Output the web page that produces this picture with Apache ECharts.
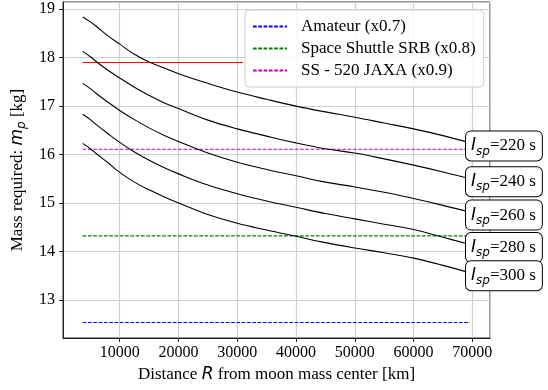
<!DOCTYPE html>
<html>
<head>
<meta charset="utf-8">
<script src="https://cdn.jsdelivr.net/npm/echarts@6/dist/echarts.min.js"></script>
<style>
html,body{margin:0;padding:0;background:#fff;}
#c{width:548px;height:390px;}
</style>
</head>
<body>
<div id="c"></div>
<script>
// Distance R from moon mass center [km]
const distanceKm = [3700, 5000, 6000, 8000, 10000, 12500, 15000, 17500, 20000, 25000, 30000, 35000, 40000, 45000, 50000, 55000, 60000, 65000, 69600];
// Mass required [kg] for each specific impulse
const isp220 = [18.84, 18.74, 18.65, 18.45, 18.28, 18.07, 17.91, 17.79, 17.67, 17.47, 17.29, 17.14, 17.00, 16.88, 16.77, 16.65, 16.53, 16.39, 16.24];
const isp240 = [18.13, 18.02, 17.92, 17.74, 17.58, 17.39, 17.22, 17.07, 16.95, 16.71, 16.53, 16.38, 16.24, 16.12, 16.03, 15.91, 15.78, 15.64, 15.50];
const isp260 = [17.47, 17.36, 17.26, 17.08, 16.91, 16.72, 16.55, 16.40, 16.27, 16.03, 15.84, 15.69, 15.56, 15.43, 15.33, 15.22, 15.09, 14.95, 14.81];
const isp280 = [16.83, 16.72, 16.62, 16.43, 16.25, 16.05, 15.88, 15.73, 15.60, 15.37, 15.19, 15.04, 14.91, 14.78, 14.67, 14.56, 14.45, 14.29, 14.14];
const isp300 = [16.23, 16.12, 16.02, 15.83, 15.63, 15.43, 15.27, 15.13, 15.00, 14.76, 14.58, 14.44, 14.31, 14.18, 14.07, 13.97, 13.86, 13.71, 13.56];
const ispLabels = ['220', '240', '260', '280', '300'];
// Reference mass levels
const maxMass = 17.9;
const maxMassRange = [3700, 31000];
const refRange = [3700, 69600];
const refNames = ['Amateur (x0.7)', 'Space Shuttle SRB (x0.8)', 'SS - 520 JAXA (x0.9)'];
const refValues = [12.53, 14.32, 16.11];
const refColors = ['#0000ff', '#008000', '#bf00bf'];

const serif = 'Liberation Serif';
const mathFont = 'DejaVu Sans';

const curves = [isp220, isp240, isp260, isp280, isp300];
const series = [];
curves.forEach((ys, k) => {
  series.push({
    name: 'Isp' + ispLabels[k],
    type: 'line',
    data: distanceKm.map((x, i) => [x, ys[i]]),
    smooth: 0.4,
    symbol: 'none',
    z: 3,
    lineStyle: {color: '#000', width: 1.1},
    endLabel: {
      show: true,
      distance: 0,
      offset: [-4, 3],
      formatter: '{i|I}{s|sp}{t|=' + ispLabels[k] + ' s}',
      backgroundColor: '#fff',
      borderColor: '#000',
      borderWidth: 1,
      borderRadius: 5,
      padding: [3, 6, 3, 5],
      rich: {
        i: {fontFamily: mathFont, fontStyle: 'italic', fontSize: 17, lineHeight: 23, color: '#000', verticalAlign: 'middle'},
        s: {fontFamily: mathFont, fontStyle: 'italic', fontSize: 12, color: '#000', verticalAlign: 'bottom'},
        t: {fontFamily: serif, fontSize: 17, lineHeight: 23, color: '#000', verticalAlign: 'middle'}
      }
    }
  });
});
series.push({
  name: 'max',
  type: 'line',
  data: maxMassRange.map(x => [x, maxMass]),
  symbol: 'none',
  z: 2,
  lineStyle: {color: '#ff0000', width: 1.2}
});
refNames.forEach((n, k) => {
  series.push({
    name: n,
    type: 'line',
    data: refRange.map(x => [x, refValues[k]]),
    symbol: 'none',
    z: 2,
    lineStyle: {color: refColors[k], width: 1.1, type: [3.7, 1.6]},
    itemStyle: {color: refColors[k]}
  });
});

const chart = echarts.init(document.getElementById('c'), null, {renderer: 'canvas'});
chart.setOption({
  animation: false,
  backgroundColor: '#fff',
  textStyle: {fontFamily: serif},
  grid: {left: 63, right: 58, top: 2, bottom: 52, show: true, borderColor: '#222', borderWidth: 1, backgroundColor: 'transparent'},
  legend: {
    data: refNames,
    orient: 'vertical',
    left: 245,
    top: 10,
    padding: [8, 8, 8, 7],
    itemWidth: 34,
    itemHeight: 14,
    itemGap: 5,
    itemStyle: {opacity: 0},
    backgroundColor: 'rgba(255,255,255,0.85)',
    borderColor: '#cccccc',
    borderWidth: 1,
    borderRadius: 4,
    formatter: name => '{a|' + name + '}',
    textStyle: {
      fontFamily: serif, fontSize: 17, color: '#000',
      rich: {a: {fontFamily: serif, fontSize: 17, color: '#000', padding: [0, 0, 0, 9]}}
    }
  },
  xAxis: {
    type: 'value',
    min: 350,
    max: 73000,
    splitNumber: 7,
    name: '{t|Distance }{r|R}{t| from moon mass center [km]}',
    nameLocation: 'middle',
    nameGap: 26,
    nameTextStyle: {
      rich: {
        t: {fontFamily: serif, fontSize: 17, color: '#000'},
        r: {fontFamily: mathFont, fontStyle: 'italic', fontSize: 17, color: '#000'}
      }
    },
    axisLine: {show: true, onZero: false, lineStyle: {color: '#222', width: 1}},
    axisTick: {show: true, length: 4, lineStyle: {color: '#222'}},
    axisLabel: {showMinLabel: false, showMaxLabel: false, margin: 7, fontFamily: serif, fontSize: 16, color: '#000', formatter: v => String(Math.round(v))},
    splitLine: {show: true, lineStyle: {color: '#cfcfcf', width: 1.2}}
  },
  yAxis: {
    type: 'value',
    min: 12.21,
    max: 19.15,
    splitNumber: 7,
    name: '{t|Mass required: }{m|m}{s|p}{t| [kg]}',
    nameLocation: 'middle',
    nameGap: 30,
    nameTextStyle: {
      rich: {
        t: {fontFamily: serif, fontSize: 17, color: '#000', lineHeight: 22, verticalAlign: 'middle'},
        m: {fontFamily: mathFont, fontStyle: 'italic', fontSize: 17, color: '#000', lineHeight: 22, verticalAlign: 'middle'},
        s: {fontFamily: mathFont, fontStyle: 'italic', fontSize: 12, color: '#000', verticalAlign: 'bottom'}
      }
    },
    axisLine: {show: true, onZero: false, lineStyle: {color: '#222', width: 1}},
    axisTick: {show: true, length: 4, lineStyle: {color: '#222'}},
    axisLabel: {showMinLabel: false, showMaxLabel: false, margin: 8, fontFamily: serif, fontSize: 16, color: '#000', formatter: v => String(Math.round(v))},
    splitLine: {show: true, lineStyle: {color: '#cfcfcf', width: 1.2}}
  },
  series: series
});
</script>
</body>
</html>
